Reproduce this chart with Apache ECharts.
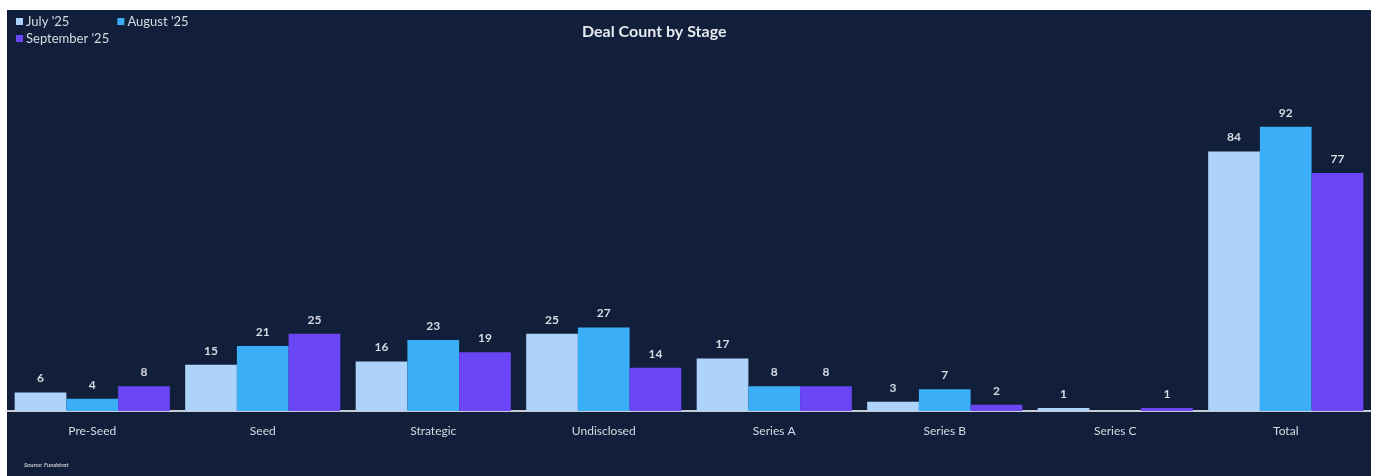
<!DOCTYPE html>
<html><head><meta charset="utf-8">
<script src="https://cdn.jsdelivr.net/npm/echarts@6/dist/echarts.min.js"></script>
<style>
html,body{margin:0;padding:0;background:#ffffff;width:1380px;height:476px;overflow:hidden;}
#c{position:absolute;left:7px;top:10px;width:1364px;height:466px;background:#121f3a;}
</style></head>
<body><div id="c"></div>
<script>
const categories = ['Pre-Seed','Seed','Strategic','Undisclosed','Series A','Series B','Series C','Total'];
const july = [6,15,16,25,17,3,1,84];
const august = [4,21,23,27,8,7,0,92];
const september = [8,25,19,14,8,2,1,77];
const seriesNames = ["July '25","August '25","September '25"];
const colors = ['#aed3fb','#3aaef7','#6b46f6'];

const chart = echarts.init(document.getElementById('c'));
const font = 'Lato, "Open Sans", sans-serif';
function mk(name, data, color){
  return {name, type:'bar', data, barGap:'0%', barCategoryGap:'9%',
    itemStyle:{color},
    label:{show:true, position:'top', distance:8, color:'#d6dbe4', fontSize:12, fontWeight:'bold', fontFamily:font,
      formatter:p=>p.value===0?'':p.value}};
}
chart.setOption({
  animation:false,
  title:{text:'Deal Count by Stage', left:570, top:9,
    textStyle:{color:'#e6e9ef', fontSize:16, fontWeight:'bold', fontFamily:font}},
  legend:[
    {data:[seriesNames[0],seriesNames[1]], left:4, top:0, itemWidth:7, itemHeight:7, itemGap:48, icon:'rect',
      textStyle:{color:'#d6dbe4', fontSize:13, fontFamily:font, padding:[0,0,0,-2]}},
    {data:[seriesNames[2]], left:4, top:17, itemWidth:7, itemHeight:7, icon:'rect',
      textStyle:{color:'#d6dbe4', fontSize:13, fontFamily:font, padding:[0,0,0,-2]}}
  ],
  grid:{left:0, right:0, top:92, bottom:65, containLabel:false},
  xAxis:{type:'category', data:categories,
    axisLine:{lineStyle:{color:'#c9ccd4', width:2}},
    axisTick:{show:false},
    axisLabel:{color:'#d6dbe4', fontSize:12, fontFamily:font, margin:14}},
  yAxis:{type:'value', min:0, max:100, show:false, splitLine:{show:false}},
  graphic:[{type:'text', left:17, top:452, style:{text:'Source: Fundstrat', fill:'#c9ccd4', font:'italic bold 6px '+font}}],
  series:[mk(seriesNames[0], july, colors[0]), mk(seriesNames[1], august, colors[1]), mk(seriesNames[2], september, colors[2])]
});
</script></body></html>
